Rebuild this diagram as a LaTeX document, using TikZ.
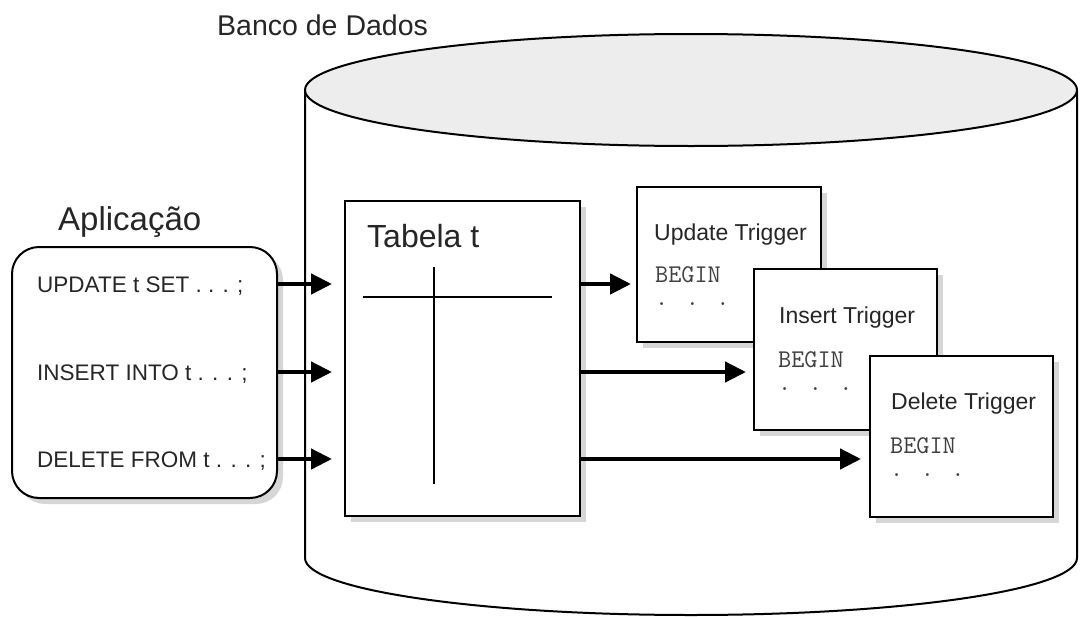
\documentclass[tikz,border=0pt]{standalone}
\usepackage{fontspec}
\setmainfont{Liberation Sans}
\usetikzlibrary{arrows.meta,shadows}

\begin{document}
\begin{tikzpicture}[x=1pt,y=-1pt,
  wall/.style={line width=2pt},
  box/.style={draw, line width=2pt, fill=white, inner sep=0pt,
    drop shadow={shadow xshift=6pt, shadow yshift=-6pt, fill=black!16, opacity=1}},
  arr/.style={line width=4.5pt, -{Triangle[length=21pt,width=20pt]}},
  txt/.style={anchor=base west, inner sep=0pt, text=black!85},
  stmt/.style={txt, font=\fontsize{22.5}{26}\selectfont},
  trig/.style={txt, font=\fontsize{23}{27}\selectfont},
  code/.style={txt, text=black!75, font=\ttfamily\fontsize{25.5}{30}\selectfont},
  head/.style={txt, font=\fontsize{33}{38}\selectfont}
]
\useasboundingbox (0,0) rectangle (1087,616);

% database cylinder
\draw[wall, fill=white] (305,91) -- (305,558)
  .. controls (305,589.5) and (477.8,615) .. (691,615)
  .. controls (904.2,615) and (1077,589.5) .. (1077,558) -- (1077,91);
\draw[wall, fill=black!7] (691,90) ellipse [x radius=386, y radius=56];
\node[txt, font=\fontsize{28.5}{33}\selectfont] (dblabel) at (217,35) {Banco de Dados};

% application
\node[head] (applabel) at (58,230) {Aplicação};
\node[box, rounded corners=27pt, minimum width=265pt, minimum height=251pt] (app) at (144.5,372.5) {};
\node[stmt] (s1) at (37,292) {UPDATE t SET . . . ;};
\node[stmt] (s2) at (37,380) {INSERT INTO t . . . ;};
\node[stmt] (s3) at (37,467) {DELETE FROM t . . . ;};

% table t
\node[box, minimum width=235pt, minimum height=315pt] (tab) at (462.5,358.5) {};
\node[head, font=\fontsize{32}{37}\selectfont] (tabt) at (367,247) {Tabela t};
\draw[line width=2.4pt] (363,297) -- (552,297);
\draw[line width=2.4pt] (434,267) -- (434,484);

% arrow rows
\coordinate (r1) at (0,284);
\coordinate (r2) at (0,372);
\coordinate (r3) at (0,459);

% triggers
\node[box, minimum width=184pt, minimum height=155pt] (upd) at (729,264.5) {};
\node[trig] (updt) at (654,240) {Update Trigger};
\node[code] (updb) at (655,282) {BEGIN};
\node[code] (updd) at (655,305) {. . .};

\node[box, minimum width=183pt, minimum height=161pt] (ins) at (845.5,349.5) {};
\node[trig] (inst) at (779,323) {Insert Trigger};
\node[code] (insb) at (778,367) {BEGIN};
\node[code] (insd) at (778,390) {. . .};

\node[box, minimum width=183pt, minimum height=161pt] (del) at (961.5,436.5) {};
\node[trig] (delt) at (891,409) {Delete Trigger};
\node[code] (delb) at (890,453) {BEGIN};
\node[code] (deld) at (890,476) {. . .};

% connectors
\draw[arr, shorten >=12pt] (app.east |- r1) -- (tab.west |- r1);
\draw[arr, shorten >=12pt] (app.east |- r2) -- (tab.west |- r2);
\draw[arr, shorten >=12pt] (app.east |- r3) -- (tab.west |- r3);
\draw[arr, shorten >=5pt] (tab.east |- r1) -- (upd.west |- r1);
\draw[arr, shorten >=7pt] (tab.east |- r2) -- (ins.west |- r2);
\draw[arr, shorten >=8pt] (tab.east |- r3) -- (del.west |- r3);
\end{tikzpicture}
\end{document}
